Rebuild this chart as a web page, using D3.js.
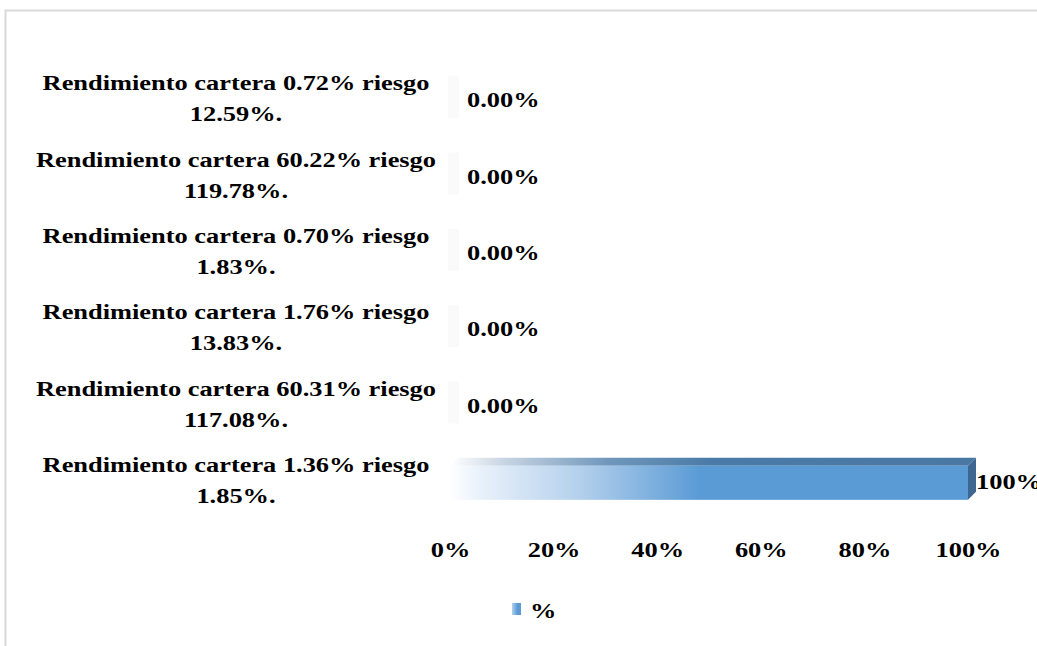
<!DOCTYPE html>
<html><head><meta charset="utf-8">
<script src="https://cdn.jsdelivr.net/npm/d3@7"></script>
<style>
html,body{margin:0;padding:0;background:#fff;overflow:hidden;}
text{font-family:"Liberation Serif","Times New Roman",serif;font-weight:bold;fill:#000;}
</style></head>
<body><svg id="c" width="1037" height="646"></svg>
<script>
// Data (top to bottom as displayed)
const categories = [
  ["Rendimiento cartera 0.72% riesgo", "12.59%."],
  ["Rendimiento cartera 60.22% riesgo", "119.78%."],
  ["Rendimiento cartera 0.70% riesgo", "1.83%."],
  ["Rendimiento cartera 1.76% riesgo", "13.83%."],
  ["Rendimiento cartera 60.31% riesgo", "117.08%."],
  ["Rendimiento cartera 1.36% riesgo", "1.85%."]
];
const values = [0, 0, 0, 0, 0, 1];
const valueLabels = ["0.00%", "0.00%", "0.00%", "0.00%", "0.00%", "100%"];
const tickValues = [0, 0.2, 0.4, 0.6, 0.8, 1];
const seriesName = "%";

const FS = 22, SX = 1.2;
const svg = d3.select("#c");
const defs = svg.append("defs");

function label(parent, x, y, str, anchor) {
  return parent.append("text")
    .attr("transform", `translate(${x},${y}) scale(${SX},1)`)
    .attr("text-anchor", anchor || "start")
    .attr("font-size", FS).text(str);
}

// Chart frame
svg.append("rect").attr("x",5.5).attr("y",10.5).attr("width",1100).attr("height",700)
  .attr("fill","none").attr("stroke","#d9d9d9").attr("stroke-width",2);

const x = d3.scaleLinear().domain([0,1]).range([450,968]);
const y = d3.scaleBand().domain(d3.range(categories.length)).range([62,520]);
const barH = 34, depth = 8;

// gradients
const gf = defs.append("linearGradient").attr("id","gFront").attr("x1","0").attr("x2","1").attr("y1","0").attr("y2","0");
gf.append("stop").attr("offset","0").attr("stop-color","#ffffff");
gf.append("stop").attr("offset","0.05").attr("stop-color","#ebf3fb");
gf.append("stop").attr("offset","0.25").attr("stop-color","#b4d0ec");
gf.append("stop").attr("offset","0.48").attr("stop-color","#5b9bd5");
gf.append("stop").attr("offset","1").attr("stop-color","#5b9bd5");
const gt = defs.append("linearGradient").attr("id","gTop").attr("x1","0").attr("x2","1").attr("y1","0").attr("y2","0");
gt.append("stop").attr("offset","0").attr("stop-color","#ffffff");
gt.append("stop").attr("offset","0.1").attr("stop-color","#c9d6e3");
gt.append("stop").attr("offset","0.3").attr("stop-color","#7097bb");
gt.append("stop").attr("offset","0.5").attr("stop-color","#4a7aa7");
gt.append("stop").attr("offset","1").attr("stop-color","#4a78a5");
const gl = defs.append("linearGradient").attr("id","gLeg").attr("x1","0").attr("x2","1");
gl.append("stop").attr("offset","0").attr("stop-color","#b4d0ec");
gl.append("stop").attr("offset","0.6").attr("stop-color","#5b9bd5");

// bars
const bars = svg.append("g");
values.forEach((v,i)=>{
  const cy = y(i) + y.bandwidth()/2;
  const x0 = x(0), x1 = x(v);
  const top = cy - barH/2 + 1;
  const g = bars.append("g");
  if (v > 0) {
    g.append("path").attr("d",`M${x0},${top} L${x0+depth},${top-depth} L${x1+depth},${top-depth} L${x1},${top} Z`).attr("fill","url(#gTop)");
    g.append("rect").attr("x",x0).attr("y",top).attr("width",x1-x0).attr("height",barH).attr("fill","url(#gFront)");
    g.append("path").attr("d",`M${x1},${top} L${x1+depth},${top-depth} L${x1+depth},${top+barH-depth} L${x1},${top+barH} Z`).attr("fill","#3d6790");
  } else {
    g.append("rect").attr("x",x0-2).attr("y",top-depth).attr("width",depth+3).attr("height",barH+depth)
      .attr("fill","#f7f7f7").attr("opacity",0.6);
  }
  label(svg, x1 + (v>0 ? 8 : 17), cy + 7, valueLabels[i]);
});

// category labels (wrapped, centered)
const lab = svg.append("g");
categories.forEach((lines,i)=>{
  const cy = y(i) + y.bandwidth()/2;
  lines.forEach((ln,j)=>{
    label(lab, 236, cy - 10 + j*31, ln, "middle");
  });
});

// x axis
const ax = svg.append("g").attr("transform","translate(0,557)")
  .call(d3.axisBottom(x).tickValues(tickValues).tickFormat(d3.format(".0%")).tickSize(0));
ax.select(".domain").remove();
ax.selectAll("text").attr("font-size",FS).attr("dy","0").attr("y",0)
  .attr("transform",`scale(${SX},1)`).attr("x", 0)
  .style("font-family",'"Liberation Serif","Times New Roman",serif').style("font-weight","bold").attr("fill","#000");

// legend
svg.append("rect").attr("x",512).attr("y",603).attr("width",9).attr("height",12).attr("fill","url(#gLeg)");
label(svg, 530, 618, seriesName);
</script></body></html>
